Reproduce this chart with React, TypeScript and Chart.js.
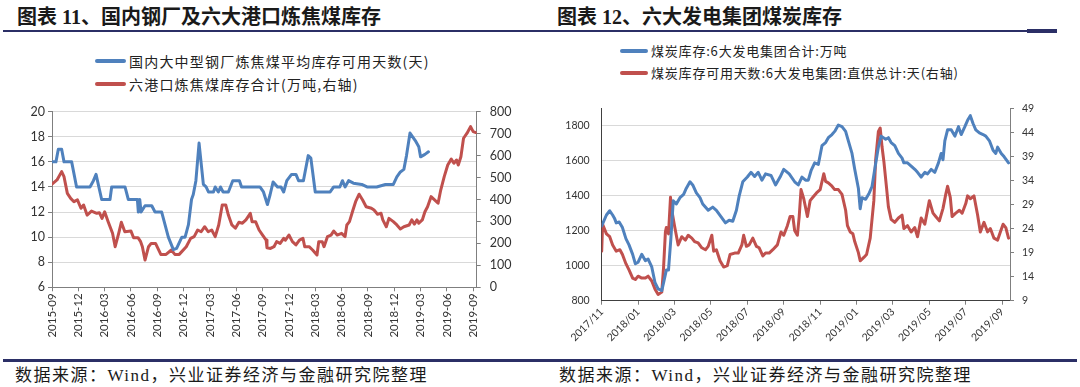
import React, { useEffect, useRef } from "react";
import { Chart, registerables } from "chart.js";

Chart.register(...registerables);

// ---------- data ----------
// Left chart: x = months since 2015-09
const LEFT_TICKS = [
  "2015-09", "2015-12", "2016-03", "2016-06", "2016-09", "2016-12", "2017-03", "2017-06", "2017-09",
  "2017-12", "2018-03", "2018-06", "2018-09", "2018-12", "2019-03", "2019-06", "2019-09",
];
const LEFT_LABEL_DAYS = "国内大中型钢厂炼焦煤平均库存可用天数(天)";
const LEFT_LABEL_PORT = "六港口炼焦煤库存合计(万吨,右轴)";

const steelDays: number[][] = [
  [0, 16], [0.45, 16], [0.72, 17], [1.1, 17], [1.37, 16], [2.24, 16], [2.8, 14], [4.33, 14], [4.72, 14.5],
  [5.02, 15], [5.66, 13], [6.61, 13], [6.8, 14], [8.32, 14], [8.7, 13], [9.73, 13], [9.84, 12], [10.0, 13],
  [10.15, 12], [10.6, 12.5], [11.37, 12.5], [11.74, 12], [12.5, 12], [13.26, 10], [13.83, 9], [14.2, 9.1],
  [14.8, 10], [15.17, 10], [15.55, 11], [15.9, 13], [16.1, 13.4], [16.4, 14.5], [16.76, 17.5], [17.25, 14.2],
  [17.56, 14], [17.83, 13.6], [18.4, 13.6], [18.6, 14], [18.96, 13.6], [19.2, 14], [19.5, 13.6], [20.1, 13.6],
  [20.6, 14.5], [21.36, 14.5], [21.6, 14], [23.7, 14], [24.1, 13.6], [24.55, 12.6], [24.86, 13.4], [25.2, 14.4],
  [25.7, 14], [26.1, 14], [26.4, 13.6], [26.76, 14.5], [27.3, 15], [27.8, 15], [28.1, 14.5], [28.65, 14.5],
  [29.2, 16.5], [29.5, 16.3], [30, 13.6], [31.7, 13.6], [32.1, 14], [32.8, 14], [33.1, 14.5], [33.4, 14],
  [33.8, 14.5], [34.35, 14.3], [35.3, 14.2], [35.9, 14], [37, 14], [38, 14.2], [38.9, 14.2], [39.3, 14.8],
  [39.7, 15.2], [40.1, 15.4], [40.4, 16.5], [40.8, 18.3], [41.4, 17.7], [41.8, 17.2], [42.0, 16.4], [42.5, 16.6],
  [42.9, 16.8],
];

const portStock: number[][] = [
  [0, 470], [0.57, 489], [1.1, 527], [1.37, 504], [1.75, 428], [2.13, 405], [2.5, 390], [2.9, 398], [3.3, 360],
  [3.6, 375], [4.0, 329], [4.5, 347], [5.1, 337], [5.4, 340], [5.7, 314], [6.0, 344], [6.4, 299], [6.9, 246],
  [7.2, 185], [7.6, 246], [7.9, 296], [8.3, 253], [9.0, 256], [9.3, 226], [9.8, 226], [10.1, 208], [10.3, 185],
  [10.6, 124], [11.0, 185], [11.3, 200], [11.8, 200], [12.4, 150], [13.0, 150], [13.6, 170], [14.0, 150],
  [14.5, 150], [15.3, 185], [15.8, 223], [16.2, 231], [16.6, 261], [17.0, 253], [17.4, 276], [17.8, 253],
  [18.2, 261], [18.6, 231], [19.0, 284], [19.4, 375], [19.8, 375], [20.1, 329], [20.5, 284], [20.9, 269],
  [21.3, 296], [21.7, 292], [22.1, 307], [22.6, 337], [22.8, 299], [23.2, 299], [23.6, 261], [24.0, 238],
  [24.4, 215], [24.5, 180], [24.9, 177], [25.3, 185], [25.6, 208], [26.0, 200], [26.4, 223], [26.6, 215],
  [27.0, 238], [27.4, 208], [27.8, 193], [28.2, 215], [28.6, 223], [28.8, 185], [29.3, 185], [29.7, 170],
  [30.2, 147], [30.4, 208], [30.8, 208], [31.0, 185], [31.4, 231], [31.8, 238], [32.1, 256], [32.5, 238],
  [33.0, 246], [33.4, 231], [33.6, 284], [33.9, 299], [34.3, 352], [34.6, 390], [35.0, 424], [35.4, 398],
  [35.8, 367], [36.4, 360], [36.7, 352], [37.1, 333], [37.5, 337], [37.7, 307], [38.1, 276], [38.4, 314],
  [38.9, 299], [39.3, 284], [39.7, 266], [40.1, 276], [40.7, 284], [41.0, 307], [41.3, 288], [41.6, 307],
  [41.8, 292], [42.2, 307], [42.5, 344], [42.8, 367], [43.2, 413], [43.6, 398], [44.0, 383], [44.3, 443],
  [44.7, 504], [45.1, 557], [45.5, 584], [45.8, 565], [46.1, 580], [46.3, 557], [46.6, 595], [46.9, 679],
  [47.3, 702], [47.7, 732], [48.0, 709], [48.3, 705],
];

// Right chart: x = months since 2017-11
const RIGHT_TICKS = [
  "2017/11", "2018/01", "2018/03", "2018/05", "2018/07", "2018/09", "2018/11",
  "2019/01", "2019/03", "2019/05", "2019/07", "2019/09",
];
const RIGHT_LABEL_STOCK = "煤炭库存:6大发电集团合计:万吨";
const RIGHT_LABEL_DAYS = "煤炭库存可用天数:6大发电集团:直供总计:天(右轴)";

const powerStock: number[][] = [
  [0, 1227], [0.26, 1290], [0.44, 1314], [0.6, 1290], [0.7, 1272], [0.8, 1245], [0.96, 1250], [1.14, 1218],
  [1.33, 1155], [1.5, 1119], [1.7, 1065], [1.85, 1011], [2.0, 1020], [2.2, 1065], [2.4, 1029], [2.55, 1038],
  [2.75, 993], [2.93, 903], [3.1, 867], [3.3, 858], [3.4, 903], [3.55, 975], [3.67, 975], [3.8, 1155],
  [3.93, 1371], [4.1, 1353], [4.3, 1389], [4.5, 1408], [4.65, 1443], [4.85, 1480], [5.0, 1462], [5.2, 1416],
  [5.4, 1389], [5.55, 1353], [5.85, 1317], [6.1, 1335], [6.3, 1317], [6.55, 1281], [6.8, 1245], [7.0, 1260],
  [7.2, 1254], [7.4, 1317], [7.55, 1398], [7.75, 1480], [8.0, 1507], [8.2, 1534], [8.4, 1510], [8.6, 1534],
  [8.8, 1489], [9.0, 1525], [9.3, 1516], [9.55, 1462], [9.8, 1507], [10.0, 1551], [10.3, 1525], [10.6, 1480],
  [10.8, 1462], [11.0, 1507], [11.2, 1489], [11.35, 1489], [11.5, 1543], [11.7, 1588], [11.9, 1579],
  [12.1, 1686], [12.3, 1704], [12.45, 1732], [12.65, 1750], [12.8, 1768], [13.0, 1804], [13.2, 1795],
  [13.4, 1768], [13.55, 1714], [13.75, 1642], [13.9, 1551], [14.1, 1443], [14.2, 1326], [14.3, 1389],
  [14.5, 1380], [14.7, 1416], [14.85, 1453], [15.0, 1551], [15.2, 1678], [15.35, 1741], [15.6, 1723],
  [15.75, 1732], [15.9, 1704], [16.1, 1686], [16.3, 1642], [16.5, 1615], [16.6, 1588], [16.8, 1588],
  [17.0, 1570], [17.2, 1551], [17.35, 1534], [17.55, 1507], [17.75, 1534], [17.9, 1525], [18.1, 1551],
  [18.3, 1534], [18.5, 1588], [18.65, 1642], [18.75, 1606], [18.85, 1714], [19.0, 1777], [19.2, 1777],
  [19.4, 1741], [19.6, 1795], [19.75, 1750], [19.95, 1795], [20.1, 1831], [20.25, 1858], [20.4, 1813],
  [20.55, 1777], [20.75, 1759], [20.95, 1750], [21.1, 1741], [21.3, 1714], [21.5, 1660], [21.65, 1642],
  [21.75, 1678], [21.95, 1642], [22.1, 1624], [22.35, 1588],
];

const powerDays: number[][] = [
  [0, 19.3], [0.05, 24.9], [0.26, 22.9], [0.44, 22.3], [0.6, 20.6], [0.8, 19.3], [1.0, 19.6], [1.14, 18.6],
  [1.33, 16.7], [1.5, 15.4], [1.7, 13.7], [1.85, 13.4], [2.0, 14.1], [2.2, 13.7], [2.4, 13.7], [2.55, 14.1],
  [2.75, 13.1], [2.93, 11.4], [3.1, 10.3], [3.3, 10.8], [3.4, 16.0], [3.5, 23.3], [3.55, 24.2], [3.67, 22.9],
  [3.78, 30.5], [3.85, 27.8], [4.0, 24.6], [4.2, 20.6], [4.4, 22.3], [4.6, 21.6], [4.75, 22.6], [4.95, 22.0],
  [5.1, 21.3], [5.3, 21.0], [5.5, 20.0], [5.7, 19.6], [5.85, 20.3], [6.05, 22.6], [6.15, 19.3], [6.3, 19.6],
  [6.5, 17.3], [6.7, 16.0], [6.9, 16.3], [7.05, 18.6], [7.3, 18.9], [7.5, 18.9], [7.7, 20.6], [7.8, 22.6],
  [7.95, 20.3], [8.1, 20.6], [8.3, 22.0], [8.5, 20.3], [8.65, 20.0], [8.85, 18.3], [9.0, 18.9], [9.2, 18.9],
  [9.4, 19.6], [9.65, 20.6], [9.85, 23.3], [10.0, 22.6], [10.2, 24.6], [10.35, 26.5], [10.5, 26.5],
  [10.6, 23.6], [10.75, 22.6], [10.85, 26.5], [10.95, 32.1], [11.1, 30.2], [11.3, 26.5], [11.45, 29.8],
  [11.6, 30.5], [11.8, 31.4], [12.0, 32.1], [12.2, 35.4], [12.3, 33.8], [12.45, 33.5], [12.65, 32.8],
  [12.8, 32.1], [13.0, 32.1], [13.2, 31.1], [13.4, 27.8], [13.5, 24.6], [13.65, 23.3], [13.8, 22.9],
  [13.9, 21.3], [14.1, 19.0], [14.2, 17.3], [14.4, 18.0], [14.55, 18.6], [14.75, 22.0], [14.95, 29.8],
  [15.05, 38.3], [15.2, 44.2], [15.3, 44.9], [15.4, 41.0], [15.5, 38.0], [15.65, 32.4], [15.75, 28.5],
  [15.9, 25.9], [16.1, 25.3], [16.3, 26.2], [16.5, 26.8], [16.6, 24.0], [16.8, 24.6], [17.0, 23.3],
  [17.2, 24.2], [17.35, 22.3], [17.55, 26.2], [17.75, 24.9], [18.0, 29.8], [18.2, 27.2], [18.35, 26.5],
  [18.55, 25.6], [18.75, 28.2], [18.9, 31.1], [19.0, 32.8], [19.15, 30.5], [19.25, 26.5], [19.45, 27.2],
  [19.65, 27.8], [19.8, 27.2], [20.0, 29.2], [20.1, 30.8], [20.25, 30.2], [20.45, 30.8], [20.65, 26.8],
  [20.8, 23.3], [21.0, 25.3], [21.2, 23.3], [21.35, 24.0], [21.55, 22.0], [21.75, 21.6], [21.9, 23.3],
  [22.05, 24.9], [22.2, 24.2], [22.35, 22.0],
];

// ---------- styles ----------
const BLUE = "#4F81BD";
const RED = "#C0504D";
const GRID = "#D9D9D9";
const AXIS = "#7F7F7F";
const TEXT = "#333333";
const NAVY = "#2B2F66";
const TICK_FONT = '"Lato", "Liberation Sans", sans-serif';
const CJK = '"Noto Sans CJK SC", sans-serif';

const toXY = (arr: number[][]) => arr.map(([x, y]) => ({ x, y }));
const plain = (v: number | string) => String(v);

function lineDs(label: string, data: number[][], color: string, axis: string) {
  return {
    label,
    data: toXY(data),
    borderColor: color,
    backgroundColor: color,
    borderWidth: 3,
    pointRadius: 0,
    tension: 0,
    borderJoinStyle: "round" as const,
    borderCapStyle: "round" as const,
    yAxisID: axis,
  };
}

function useChart(ref: React.RefObject<HTMLCanvasElement | null>, makeConfig: () => any) {
  useEffect(() => {
    if (!ref.current) return;
    const chart = new Chart(ref.current, makeConfig());
    return () => chart.destroy();
  }, []);
}

function LeftChart() {
  const ref = useRef<HTMLCanvasElement | null>(null);
  useChart(ref, () => ({
    type: "line",
    data: {
      datasets: [
        lineDs(LEFT_LABEL_DAYS, steelDays, BLUE, "y"),
        lineDs(LEFT_LABEL_PORT, portStock, RED, "y1"),
      ],
    },
    options: {
      animation: false,
      responsive: false,
      maintainAspectRatio: false,
      layout: { padding: { top: 16.7, left: 0, right: 0, bottom: 0 } },
      plugins: { legend: { display: false }, tooltip: { enabled: false } },
      scales: {
        x: {
          type: "linear",
          min: 0,
          max: 48.4,
          afterFit: (s: any) => { s.height = 52.7; },
          ticks: {
            stepSize: 3,
            autoSkip: false,
            includeBounds: false,
            minRotation: 90,
            maxRotation: 90,
            padding: 2,
            color: TEXT,
            font: { family: TICK_FONT, size: 11.5 },
            callback: (v: number) => LEFT_TICKS[Math.round(v / 3)] ?? "",
          },
          grid: { drawOnChartArea: false, tickLength: 4, color: AXIS },
          border: { color: AXIS },
        },
        y: {
          position: "left",
          min: 6,
          max: 20,
          afterFit: (s: any) => { s.width = 52; },
          ticks: { stepSize: 2, padding: 3, color: TEXT, font: { family: TICK_FONT, size: 12.5 }, callback: plain },
          grid: { color: GRID, tickColor: AXIS, tickLength: 4 },
          border: { color: AXIS },
        },
        y1: {
          position: "right",
          min: 0,
          max: 800,
          afterFit: (s: any) => { s.width = 63.3; },
          ticks: { stepSize: 100, padding: 9, color: TEXT, font: { family: TICK_FONT, size: 12.5 }, callback: plain },
          grid: { drawOnChartArea: false, tickLength: 4, color: AXIS },
          border: { color: AXIS },
        },
      },
    },
  }));
  return (
    <canvas
      ref={ref}
      width={540}
      height={245}
      style={{ position: "absolute", left: 0, top: 95, width: 540, height: 245 }}
    />
  );
}

function RightChart() {
  const ref = useRef<HTMLCanvasElement | null>(null);
  useChart(ref, () => ({
    type: "line",
    data: {
      datasets: [
        lineDs(RIGHT_LABEL_STOCK, powerStock, BLUE, "y"),
        lineDs(RIGHT_LABEL_DAYS, powerDays, RED, "y1"),
      ],
    },
    options: {
      animation: false,
      responsive: false,
      maintainAspectRatio: false,
      layout: { padding: { top: 7.5, left: 0, right: 0, bottom: 0 } },
      plugins: { legend: { display: false }, tooltip: { enabled: false } },
      scales: {
        x: {
          type: "linear",
          min: 0,
          max: 22.43,
          afterFit: (s: any) => { s.height = 51.3; },
          ticks: {
            stepSize: 2,
            autoSkip: false,
            includeBounds: false,
            minRotation: 45,
            maxRotation: 45,
            padding: 1,
            color: TEXT,
            font: { family: TICK_FONT, size: 10.5 },
            callback: (v: number) => RIGHT_TICKS[Math.round(v / 2)] ?? "",
          },
          grid: { drawOnChartArea: false, tickLength: 4, color: AXIS },
          border: { color: "#404040" },
        },
        y: {
          position: "left",
          min: 800,
          max: 1900,
          afterFit: (s: any) => { s.width = 61.7; },
          ticks: {
            stepSize: 200,
            includeBounds: false,
            padding: 12,
            color: TEXT,
            font: { family: TICK_FONT, size: 10.5 },
            callback: plain,
          },
          grid: { color: GRID, drawTicks: false },
          border: { color: "#404040" },
        },
        y1: {
          position: "right",
          min: 9,
          max: 49,
          afterFit: (s: any) => { s.width = 70; },
          ticks: { stepSize: 5, padding: 8, color: TEXT, font: { family: TICK_FONT, size: 10.5 }, callback: plain },
          grid: { drawOnChartArea: false, tickLength: 4, color: AXIS },
          border: { color: AXIS },
        },
      },
    },
  }));
  return (
    <canvas
      ref={ref}
      width={540}
      height={262}
      style={{ position: "absolute", left: 540, top: 90, width: 540, height: 262 }}
    />
  );
}

function LegendItem(props: { x: number; y: number; len: number; color: string; text: string; size: number; spacing: number }) {
  const { x, y, len, color, text, size, spacing } = props;
  return (
    <>
      <div
        style={{
          position: "absolute",
          left: x,
          top: y - 2,
          width: len,
          height: 4,
          borderRadius: 2,
          background: color,
        }}
      />
      <div
        style={{
          position: "absolute",
          left: x + len + 3,
          top: y - 10,
          height: 20,
          lineHeight: "20px",
          fontFamily: CJK,
          fontSize: size,
          letterSpacing: spacing,
          color: "#222",
          whiteSpace: "nowrap",
        }}
      >
        {text}
      </div>
    </>
  );
}

const titleStyle: React.CSSProperties = {
  position: "absolute",
  top: 4,
  height: 26,
  lineHeight: "26px",
  fontFamily: '"Liberation Serif", "Noto Sans CJK SC", serif',
  fontWeight: 700,
  fontSize: 20,
  color: "#1a1a1a",
  whiteSpace: "nowrap",
};

const footStyle: React.CSSProperties = {
  position: "absolute",
  top: 366,
  height: 20,
  lineHeight: "20px",
  fontFamily: '"Liberation Serif", "Noto Sans CJK SC", serif',
  fontSize: 17,
  letterSpacing: 1.5,
  color: "#1a1a1a",
  whiteSpace: "nowrap",
};

export default function App() {
  return (
    <div
      style={{
        position: "fixed",
        left: 0,
        top: 0,
        width: 1080,
        height: 387,
        background: "#fff",
        overflow: "hidden",
      }}
    >
      <div style={{ ...titleStyle, left: 17 }}>图表 11、国内钢厂及六大港口炼焦煤库存</div>
      <div style={{ ...titleStyle, left: 557 }}>图表 12、六大发电集团煤炭库存</div>
      <div style={{ position: "absolute", left: 3, top: 30, width: 1054, height: 2, background: NAVY }} />
      <div style={{ position: "absolute", left: 1027, top: 29, width: 30, height: 4, background: NAVY }} />

      <LegendItem x={95} y={61} len={31} color={BLUE} text={LEFT_LABEL_DAYS} size={14} spacing={1.2} />
      <LegendItem x={95} y={84} len={31} color={RED} text={LEFT_LABEL_PORT} size={14} spacing={1.2} />
      <LegendItem x={620} y={51} len={28} color={BLUE} text={RIGHT_LABEL_STOCK} size={13} spacing={0.8} />
      <LegendItem x={620} y={73} len={28} color={RED} text={RIGHT_LABEL_DAYS} size={13} spacing={0.8} />

      <LeftChart />
      <RightChart />

      <div style={{ position: "absolute", left: 3, top: 359, width: 1074, height: 3, background: NAVY }} />
      <div style={{ ...footStyle, left: 15 }}>数据来源：Wind，兴业证券经济与金融研究院整理</div>
      <div style={{ ...footStyle, left: 559 }}>数据来源：Wind，兴业证券经济与金融研究院整理</div>
    </div>
  );
}
